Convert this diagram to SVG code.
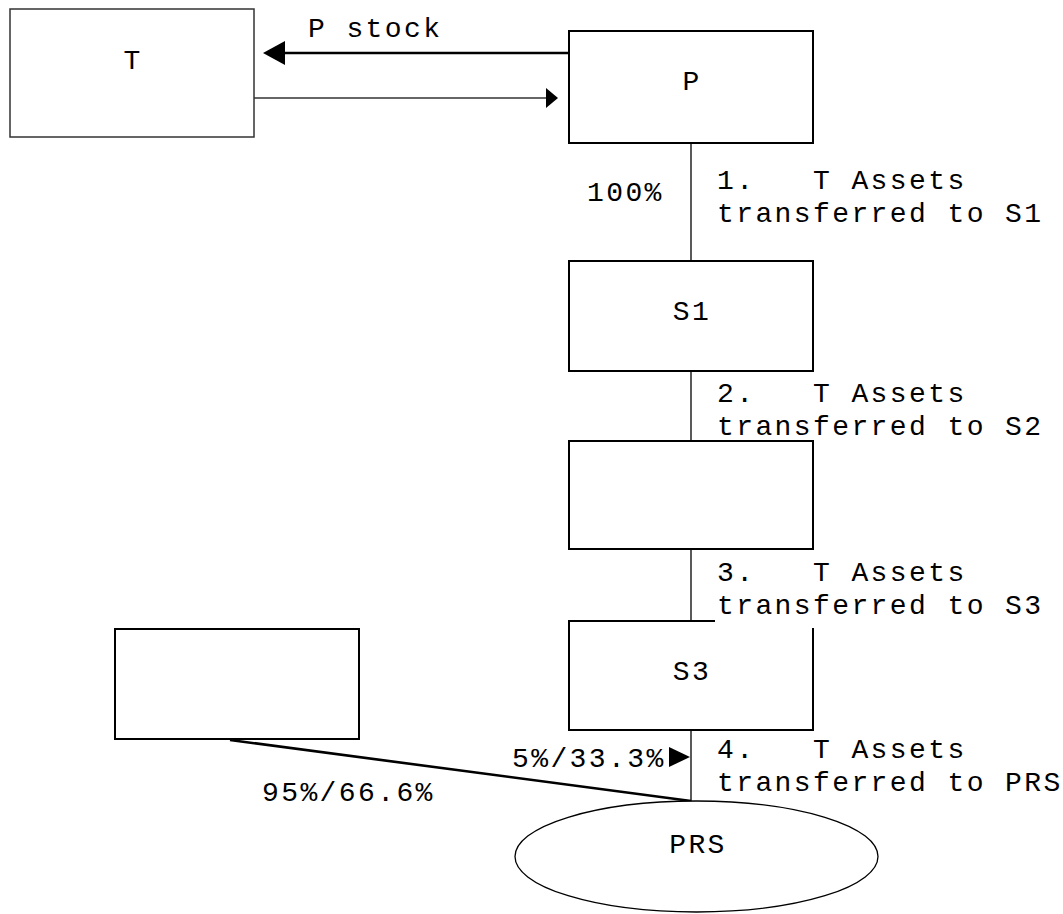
<svg xmlns="http://www.w3.org/2000/svg" width="1063" height="914" viewBox="0 0 1063 914">
  <style>
    .box { fill: #fff; stroke: #000; stroke-width: 2; }
    .boxg { fill: #fff; stroke: #333; stroke-width: 1.5; }
    .t { font-family: "Liberation Mono", "Courier New", monospace; font-size: 28px; letter-spacing: 2.4px; fill: #000; white-space: pre; }
    .c { text-anchor: middle; }
    .thin { stroke: #000; stroke-width: 1.3; fill: none; }
    .thick { stroke: #000; stroke-width: 2.6; fill: none; }
  </style>
  <defs>
    <marker id="ahBig" markerUnits="userSpaceOnUse" markerWidth="22" markerHeight="24" refX="0" refY="12" orient="auto">
      <path d="M0,0 L22,12 L0,24 z" fill="#000"/>
    </marker>
    <marker id="ahSmall" markerUnits="userSpaceOnUse" markerWidth="12" markerHeight="20" refX="0" refY="10" orient="auto">
      <path d="M0,0 L12,10 L0,20 z" fill="#000"/>
    </marker>
  </defs>
  <rect width="1063" height="914" fill="#fff"/>

  <g id="connectors">
    <line class="thick" x1="568" y1="53" x2="285" y2="53" marker-end="url(#ahBig)"/>
    <line x1="254" y1="98" x2="546" y2="98" stroke="#333" stroke-width="1.5" marker-end="url(#ahSmall)"/>
    <line class="thin" x1="691" y1="143" x2="691" y2="261"/>
    <line class="thin" x1="691" y1="371" x2="691" y2="441"/>
    <line class="thin" x1="691" y1="549" x2="691" y2="621"/>
    <line class="thin" x1="691" y1="730" x2="691" y2="801"/>
    <line class="thick" x1="230" y1="740" x2="691" y2="801"/>
    <polygon points="669,747 690,757 669,767" fill="#000"/>
  </g>

  <g id="node-T">
    <rect class="boxg" x="10" y="9" width="244" height="128"/>
    <text class="t c" x="133" y="69">T</text>
  </g>
  <g id="node-P">
    <rect class="box" x="569" y="31" width="244" height="112"/>
    <text class="t c" x="692" y="90">P</text>
  </g>
  <g id="node-S1">
    <rect class="box" x="569" y="261" width="244" height="110"/>
    <text class="t c" x="692" y="320">S1</text>
  </g>
  <g id="node-S2">
    <rect class="box" x="569" y="441" width="244" height="108"/>
  </g>
  <g id="node-S3">
    <rect class="box" x="569" y="621" width="244" height="109"/>
    <text class="t c" x="692" y="680">S3</text>
  </g>
  <g id="node-left">
    <rect class="box" x="115" y="629" width="244" height="110" stroke-width="1.5"/>
  </g>
  <g id="node-PRS">
    <ellipse cx="696.5" cy="856.5" rx="181.5" ry="55.5" fill="#fff" stroke="#000" stroke-width="1.3"/>
    <text class="t c" x="698" y="853">PRS</text>
  </g>

  <g id="labels">
    <text class="t" x="308" y="37">P stock</text>
    <text class="t" x="587" y="201">100%</text>
    <text class="t" x="717" y="189">1.   T Assets</text>
    <text class="t" x="717" y="222">transferred to S1</text>
    <text class="t" x="717" y="402">2.   T Assets</text>
    <text class="t" x="717" y="435">transferred to S2</text>
    <rect x="715" y="556" width="348" height="72" fill="#fff"/>
    <text class="t" x="717" y="581">3.   T Assets</text>
    <text class="t" x="717" y="614">transferred to S3</text>
    <text class="t" x="717" y="758">4.   T Assets</text>
    <text class="t" x="717" y="791">transferred to PRS</text>
    <text class="t" x="512" y="767">5%/33.3%</text>
    <text class="t" x="262" y="801">95%/66.6%</text>
  </g>
</svg>
